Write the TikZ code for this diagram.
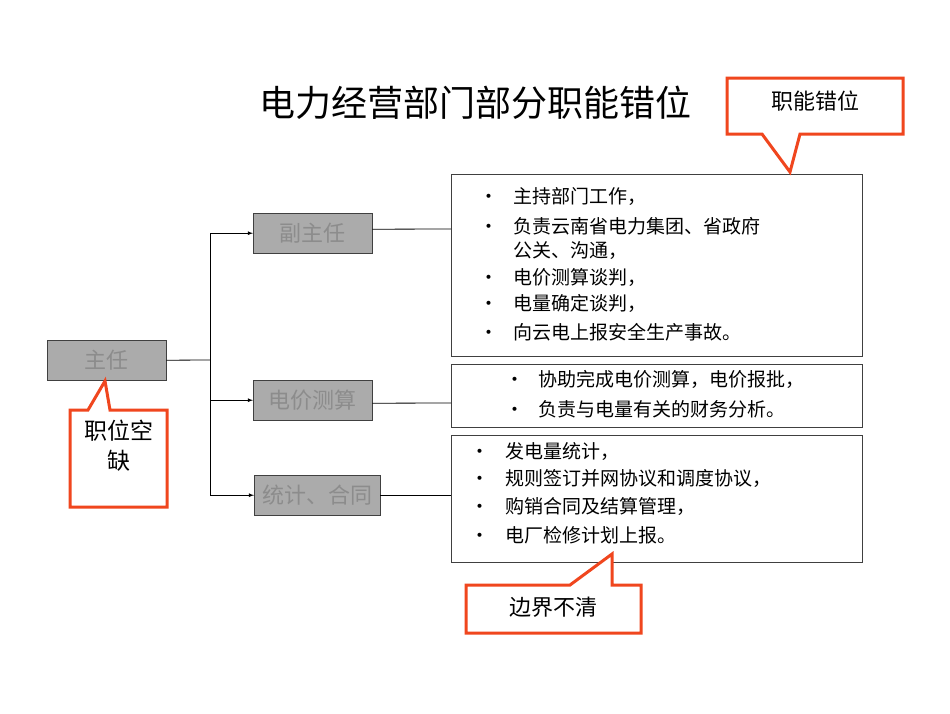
\documentclass[tikz,border=0pt]{standalone}
\usepackage{fontspec}
\setmainfont{Noto Sans CJK SC}
\begin{document}
\begin{tikzpicture}[x=1pt,y=-1pt,
  role/.style={draw=black!75,fill=black!33,text=black!45,minimum height=40pt,inner sep=0pt,font=\fontsize{22}{22}\selectfont,anchor=north west},
  info/.style={draw=black!75,anchor=north west,inner sep=0pt},
  txt/.style={anchor=base west,inner sep=0pt,font=\fontsize{19}{19}\selectfont},
  red/.style={draw={rgb,255:red,240;green,70;blue,30},line width=3pt,fill=white},
  conn/.style={draw=black,line width=0.8pt},
  arr/.style={conn,-latex}]
\fill[white] (0,0) rectangle (950,713);
\node[anchor=center,font=\fontsize{36}{36}\selectfont] (title) at (475,103) {电力经营部门部分职能错位};
\node[role,minimum width=119pt] (zr) at (47,340) {主任};
\node[role,minimum width=119pt] (fz) at (253,213) {副主任};
\node[role,minimum width=119pt] (dj) at (253,380) {电价测算};
\node[role,minimum width=126pt] (tj) at (254,475) {统计、合同};
\node[info,minimum width=411pt,minimum height=182pt] (b1) at (451,174) {};
\node[info,minimum width=411pt,minimum height=63pt] (b2) at (451,364) {};
\node[info,minimum width=411pt,minimum height=127pt] (b3) at (451,435) {};
\coordinate (j) at (210,360);
\draw[conn] (zr.east) -- (j);
\draw[arr] (j) |- (fz.west);
\draw[arr] (j) |- (dj.west);
\draw[arr] (j) |- (tj.west);
\draw[conn] (fz.east) ++(0,-4) -- (b1.west |- 0,229);
\draw[conn] (dj.east) ++(0,3) -- (b2.west |- 0,403);
\draw[conn] (tj.east) -- (b3.west |- tj.east);
\foreach \y/\t in {196/主持部门工作，,226/负责云南省电力集团、省政府,277/电价测算谈判，,303/电量确定谈判，,332/向云电上报安全生产事故。}{
  \node[txt] at (479,\y+7) {•}; \node[txt] at (513,\y+7) {\t};}
\node[txt] at (513,257) {公关、沟通，};
\foreach \y/\t in {379/协助完成电价测算，电价报批，,409/负责与电量有关的财务分析。}{
  \node[txt] at (505,\y+7) {•}; \node[txt] at (538,\y+7) {\t};}
\foreach \y/\t in {451/发电量统计，,478/规则签订并网协议和调度协议，,506/购销合同及结算管理，,535/电厂检修计划上报。}{
  \node[txt] at (470,\y+7) {•}; \node[txt] at (505,\y+7) {\t};}
\draw[red] (727,78) -- (903,78) -- (903,134) -- (800,134) -- (790,172) -- (762,134) -- (727,134) -- cycle;
\node[font=\fontsize{22}{22}\selectfont] (c1) at (815,101) {职能错位};
\draw[red] (70,410) -- (88,410) -- (105,381) -- (110,410) -- (167,410) -- (167,507) -- (70,507) -- cycle;
\node[font=\fontsize{23}{30}\selectfont,align=center] (c2) at (119,446) {职位空\\缺};
\draw[red] (466,585) -- (570,585) -- (612,554) -- (612,585) -- (641,585) -- (641,633) -- (466,633) -- cycle;
\node[font=\fontsize{22}{22}\selectfont] (c3) at (553,607) {边界不清};
\end{tikzpicture}
\end{document}
